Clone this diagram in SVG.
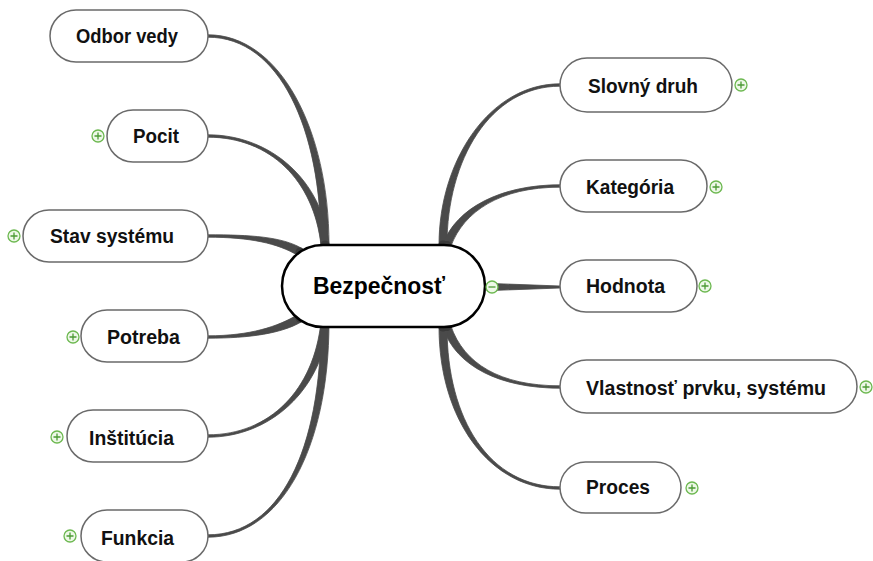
<svg xmlns="http://www.w3.org/2000/svg" width="873" height="561" viewBox="0 0 873 561">
<style>
.node rect{fill:#fff;stroke:#6a6a6a;stroke-width:1.5}
.node text{font-family:"Liberation Sans",Arial,sans-serif;font-weight:bold;font-size:20px;fill:#111}
.center rect{fill:#fff;stroke:#000;stroke-width:2.5}
.center text{font-family:"Liberation Sans",Arial,sans-serif;font-weight:bold;font-size:24px;fill:#000}
.conn path{fill:#4a4a4a;stroke:#4a4a4a;stroke-width:0.8;stroke-linejoin:round}
.conn circle{fill:#3a3a3a}
.ec{fill:#eef8e8;stroke:#6cb850;stroke-width:1.3}
.es{stroke:#4c9a34;stroke-width:1.3;fill:none}
</style>
<defs>
<g id="plus"><circle class="ec" cx="0" cy="0" r="6"/><path class="es" d="M-3.5,0H3.5M0,-3.5V3.5"/></g>
<g id="minus"><circle class="ec" cx="0" cy="0" r="6"/><path class="es" d="M-3.5,0H3.5"/></g>
</defs>
<rect width="873" height="561" fill="#fff"/>
<g id="connectors" class="conn">
<path d="M208,37.2 C280,37.2 321,130 321,245 L329,245 C329,130 280,34.8 208,34.8 Z"/>
<path d="M208,137.2 C270,137.2 314,180.4 321,245.4 L329,244.6 C322,179.6 270,134.8 208,134.8 Z"/>
<path d="M208,237.2 C250,237.2 277.9,243.4 297.9,255.4 L302.1,248.6 C282.1,236.6 250,234.8 208,234.8 Z"/>
<path d="M208,338.2 C250,338.2 282.1,333.4 302.1,321.4 L297.9,314.6 C277.9,326.6 250,335.8 208,335.8 Z"/>
<path d="M208,437.2 C270,437.2 322,390.4 329,322.4 L321,321.6 C314,389.6 270,434.8 208,434.8 Z"/>
<path d="M208,537.2 C280,537.2 329,450 329,322 L321,322 C321,450 280,534.8 208,534.8 Z"/>
<path d="M560,83.8 C490,83.8 439,160 439,245 L447,245 C447,160 490,86.2 560,86.2 Z"/>
<path d="M560,184.8 C500,184.8 456.2,208.6 443.2,243.6 L450.8,246.4 C463.8,211.4 500,187.2 560,187.2 Z"/>
<path d="M560,286 L492,283.5 L492,290.5 L560,288 Z"/>
<path d="M560,385.8 C500,385.8 463.8,363.7 450.8,325.7 L443.2,328.3 C456.2,366.3 500,388.2 560,388.2 Z"/>
<path d="M560,486.8 C490,486.8 447,420 447,327 L439,327 C439,420 490,489.2 560,489.2 Z"/>
<circle cx="325" cy="245" r="4.5"/><circle cx="300" cy="252" r="4.5"/>
<circle cx="300" cy="318" r="4.5"/><circle cx="325" cy="322" r="4.5"/>
<circle cx="443" cy="245" r="4.5"/><circle cx="447" cy="245" r="4"/>
<circle cx="443" cy="327" r="4.5"/><circle cx="447" cy="327" r="4"/>
<circle cx="489" cy="287" r="4"/>
</g>
<g id="center" class="center">
<rect x="282" y="245" width="203" height="82" rx="41"/>
<text x="313" y="294" textLength="132" lengthAdjust="spacingAndGlyphs">Bezpečnosť</text>
</g>
<g id="n-odbor" class="node">
<rect x="50" y="10" width="158" height="52" rx="26"/>
<text x="76" y="43" textLength="102" lengthAdjust="spacingAndGlyphs">Odbor vedy</text>
</g>
<g id="n-pocit" class="node">
<rect x="107" y="110" width="101" height="52" rx="26"/>
<text x="133" y="143" textLength="46" lengthAdjust="spacingAndGlyphs">Pocit</text>
</g>
<g id="n-stav" class="node">
<rect x="23" y="210" width="185" height="52" rx="26"/>
<text x="50" y="243" textLength="124" lengthAdjust="spacingAndGlyphs">Stav systému</text>
</g>
<g id="n-potreba" class="node">
<rect x="81" y="310" width="127" height="52" rx="26"/>
<text x="107" y="344" textLength="73" lengthAdjust="spacingAndGlyphs">Potreba</text>
</g>
<g id="n-institucia" class="node">
<rect x="67" y="410" width="141" height="52" rx="26"/>
<text x="89" y="445" textLength="85" lengthAdjust="spacingAndGlyphs">Inštitúcia</text>
</g>
<g id="n-funkcia" class="node">
<rect x="81" y="510" width="127" height="52" rx="26"/>
<text x="101" y="545" textLength="73" lengthAdjust="spacingAndGlyphs">Funkcia</text>
</g>
<g id="n-slovny" class="node">
<rect x="560" y="58" width="172" height="54" rx="27"/>
<text x="588" y="93" textLength="110" lengthAdjust="spacingAndGlyphs">Slovný druh</text>
</g>
<g id="n-kategoria" class="node">
<rect x="560" y="160" width="147" height="52" rx="26"/>
<text x="586" y="194" textLength="88" lengthAdjust="spacingAndGlyphs">Kategória</text>
</g>
<g id="n-hodnota" class="node">
<rect x="560" y="260" width="137" height="52" rx="26"/>
<text x="586" y="293" textLength="79" lengthAdjust="spacingAndGlyphs">Hodnota</text>
</g>
<g id="n-vlastnost" class="node">
<rect x="560" y="360" width="297" height="53" rx="26.5"/>
<text x="586" y="395" textLength="240" lengthAdjust="spacingAndGlyphs">Vlastnosť prvku, systému</text>
</g>
<g id="n-proces" class="node">
<rect x="560" y="462" width="121" height="51" rx="25.5"/>
<text x="586" y="494" textLength="64" lengthAdjust="spacingAndGlyphs">Proces</text>
</g>
<g id="expanders">
<use href="#plus" x="98" y="136"/>
<use href="#plus" x="14" y="236"/>
<use href="#plus" x="73" y="337"/>
<use href="#plus" x="57" y="437"/>
<use href="#plus" x="70" y="536"/>
<use href="#plus" x="741" y="85"/>
<use href="#plus" x="716" y="187"/>
<use href="#plus" x="705" y="286"/>
<use href="#plus" x="866" y="387"/>
<use href="#plus" x="692" y="488"/>
<use href="#minus" x="492" y="287"/>
</g>
</svg>
